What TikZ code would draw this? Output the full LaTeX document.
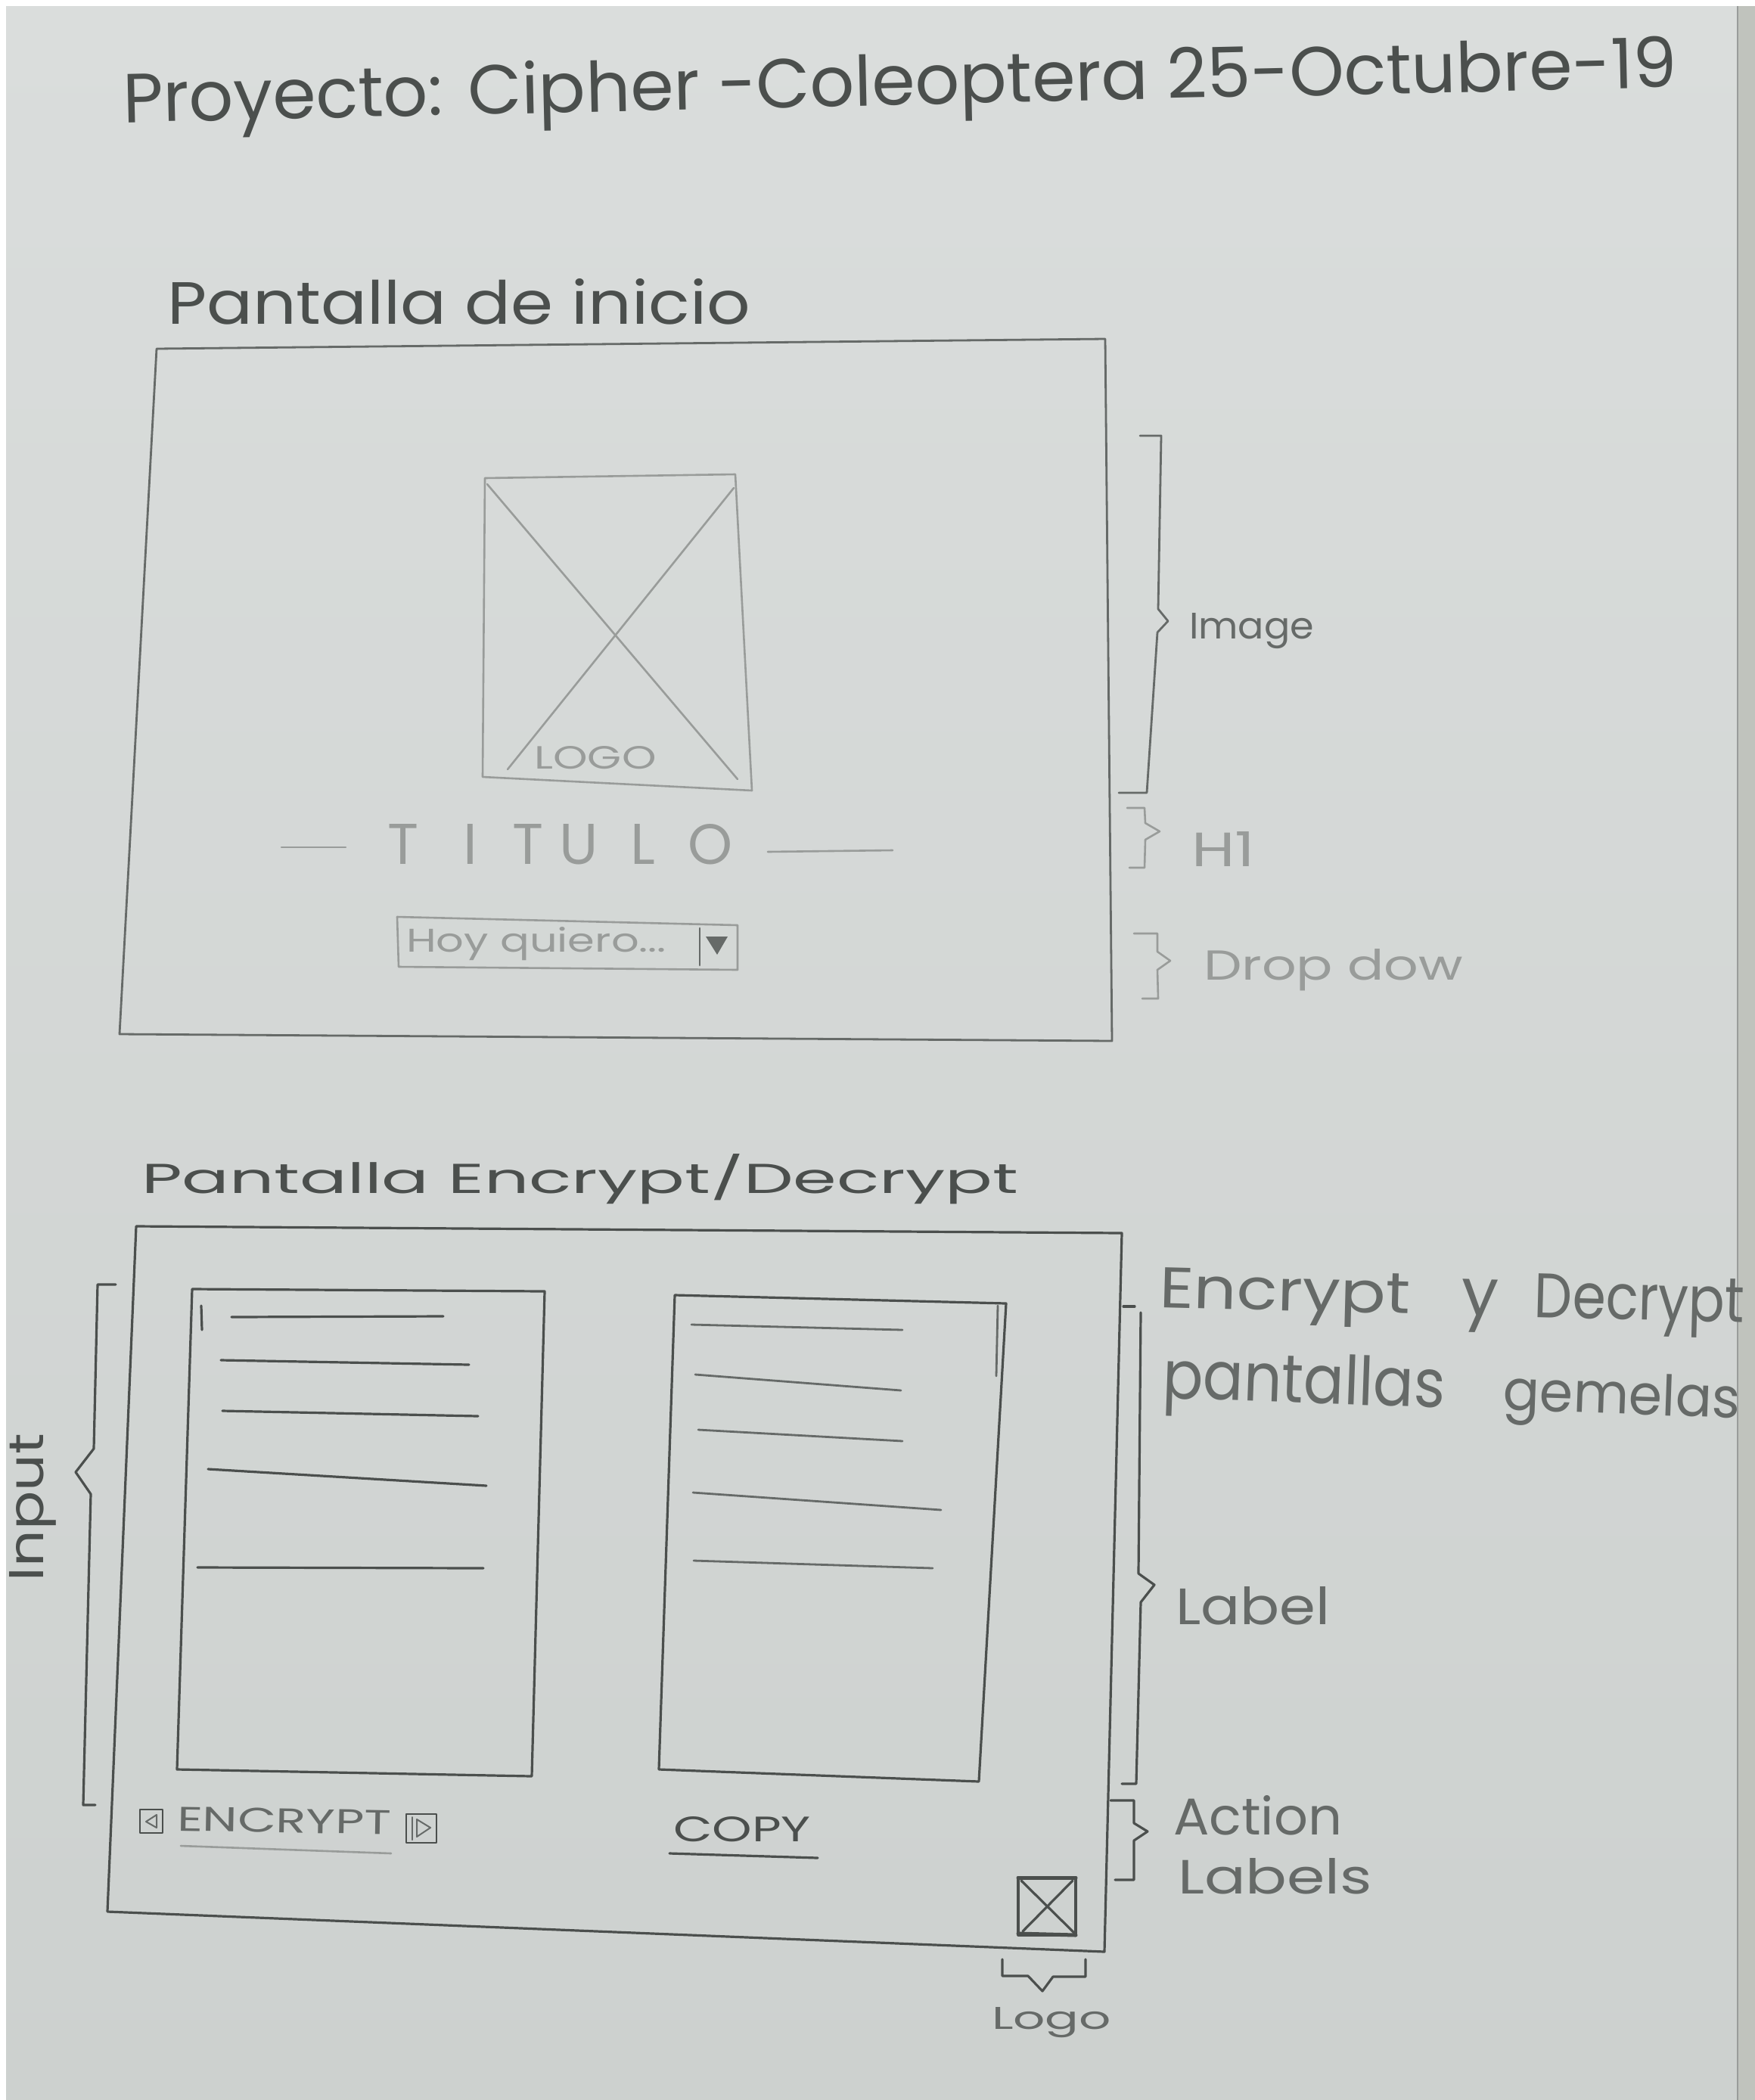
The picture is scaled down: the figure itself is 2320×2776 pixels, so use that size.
\documentclass[tikz,border=0pt]{standalone}
\usepackage{graphicx}
\usepackage{fontspec}
\setmainfont{Liberation Sans}
\newfontfamily\handfont{Poppins}
% stretch a word to a given width and height (in pt)
\newcommand{\fitbox}[3]{\resizebox{#1pt}{#2pt}{#3}}
\definecolor{paperTop}{HTML}{DADDDC}
\definecolor{paperBot}{HTML}{CDD1CF}
\definecolor{paperEdge}{HTML}{C0C3BD}
\definecolor{graphite}{HTML}{4B4F4D}
\definecolor{graphiteMid}{HTML}{666A68}
\definecolor{graphiteFaint}{HTML}{999C9A}
\tikzset{
  pencil/.style={draw=graphite, line width=3.2pt, line cap=round, line join=round},
  midpencil/.style={draw=graphiteMid, line width=2.8pt, line cap=round, line join=round},
  softpencil/.style={draw=graphiteFaint, line width=2.6pt, line cap=round, line join=round},
  note/.style={inner sep=0pt, outer sep=0pt, anchor=base west, text=graphite,
    font=\handfont\fontsize{40}{40}\selectfont},
  softnote/.style={note, text=graphiteFaint},
  midnote/.style={note, text=graphiteMid},
}
\begin{document}
\begin{tikzpicture}[x=1pt,y=-1pt]
\useasboundingbox (0,0) rectangle (2320,2776);
% sheet of paper
\fill[white] (0,0) rectangle (2320,2776);
\shade[top color=paperTop, bottom color=paperBot] (8,8) rectangle (2320,2776);
\fill[paperEdge] (2297,8) rectangle (2320,2776);
\draw[draw=graphiteFaint, line width=1.5pt] (2297,8) -- (2297,2776);

% ---------- heading ----------
\node[note, rotate=1.3] (title) at (163,162)
  {\fitbox{2055}{70}{Proyecto: Cipher -Coleoptera 25-Octubre-19}};

% ---------- home screen ----------
\node[note] (homeTitle) at (221,428) {\fitbox{771}{60}{Pantalla de inicio}};

\coordinate (s1nw) at (207,461);
\coordinate (s1ne) at (1461,448);
\coordinate (s1se) at (1470,1376);
\coordinate (s1sw) at (158,1367);
\draw[midpencil] (s1nw) -- (s1ne) -- (s1se) -- (s1sw) -- cycle;

% logo placeholder
\coordinate (lgnw) at (641,632);
\coordinate (lgne) at (972,627);
\coordinate (lgse) at (994,1045);
\coordinate (lgsw) at (638,1027);
\draw[softpencil] (lgnw) -- (lgne) -- (lgse) -- (lgsw) -- cycle;
\draw[softpencil] (644,640) -- (975,1030);
\draw[softpencil] (970,645) -- (671,1017);
\node[softnote, anchor=base] (logoText) at (787,1016) {\fitbox{161}{30}{LOGO}};

% heading line
\coordinate (dashAa) at (372,1120);
\coordinate (dashAb) at (457,1120);
\coordinate (dashBa) at (1015,1126);
\coordinate (dashBb) at (1180,1124);
\draw[softpencil] (dashAa) -- (dashAb);
\draw[softpencil] (dashBa) -- (dashBb);
\foreach \ch/\cx [count=\i] in {T/533, I/622, T/698, U/765, L/850, O/939}
  \node[softnote, anchor=base] (titulo\i) at (\cx,1142) {\resizebox{!}{53pt}{\ch}};

% dropdown
\coordinate (ddnw) at (525,1212);
\coordinate (ddne) at (975,1223);
\coordinate (ddse) at (975,1282);
\coordinate (ddsw) at (527,1278);
\draw[softpencil] (ddnw) -- (ddne) -- (ddse) -- (ddsw) -- cycle;
\draw[midpencil] (925,1227) -- (925,1276);
\fill[graphiteMid] (933,1238) -- (962,1238) -- (948,1262) -- cycle;
\node[softnote] (ddText) at (537,1258) {\fitbox{344}{33}{Hoy quiero...}};

% annotations of the home screen
\draw[midpencil] (1507,576) -- (1535,576) -- (1531,805) -- (1544,821) -- (1530,836)
  -- (1516,1048) -- (1479,1048);
\node[midnote] (imageNote) at (1572,844) {\fitbox{165}{34}{Image}};

\draw[softpencil] (1490,1068) -- (1513,1068) -- (1514,1088) -- (1533,1099) -- (1514,1110)
  -- (1513,1147) -- (1493,1147);
\node[softnote] (h1Note) at (1575,1145) {\fitbox{84}{46}{H1}};

\draw[softpencil] (1499,1234) -- (1530,1234) -- (1530,1258) -- (1547,1270) -- (1530,1282)
  -- (1531,1320) -- (1510,1320);
\node[softnote] (ddNote) at (1591,1295) {\fitbox{343}{41}{Drop dow}};

% ---------- encrypt / decrypt screen ----------
\node[note] (cryptTitle) at (187,1577) {\fitbox{1159}{52}{Pantalla Encrypt/Decrypt}};

\coordinate (s2nw) at (180,1621);
\coordinate (s2ne) at (1483,1630);
\coordinate (s2se) at (1460,2580);
\coordinate (s2sw) at (142,2527);
\draw[pencil] (s2nw) -- (s2ne) -- (s2se) -- (s2sw) -- cycle;

% input panel
\coordinate (inw) at (254,1704);
\coordinate (ine) at (720,1707);
\coordinate (ise) at (703,2348);
\coordinate (isw) at (234,2339);
\draw[pencil] (inw) -- (ine) -- (ise) -- (isw) -- cycle;
\draw[pencil] (266,1726) -- (267,1758);
\draw[pencil] (306,1741) -- (586,1740);
\draw[pencil] (292,1798) -- (620,1804);
\draw[pencil] (294,1865) -- (632,1872);
\draw[pencil] (275,1942) -- (643,1964);
\draw[pencil] (261,2072) -- (639,2073);

% output panel
\coordinate (onw) at (892,1712);
\coordinate (one) at (1330,1723);
\coordinate (ose) at (1294,2355);
\coordinate (osw) at (871,2339);
\draw[pencil] (onw) -- (one) -- (ose) -- (osw) -- cycle;
\draw[midpencil] (1319,1726) -- (1317,1819);
\draw[midpencil] (914,1751) -- (1193,1758);
\draw[midpencil] (919,1817) -- (1191,1838);
\draw[midpencil] (923,1890) -- (1193,1905);
\draw[midpencil] (916,1973) -- (1244,1996);
\draw[midpencil] (917,2063) -- (1233,2073);

% action labels
\draw[pencil, line width=2.6pt] (185,2392) rectangle (215,2423);
\draw[midpencil, line width=2pt] (207,2399) -- (207,2416) -- (193,2408) -- cycle;
\node[midnote, rotate=-1] (encryptBtn) at (234,2420) {\fitbox{283}{32}{ENCRYPT}};
\draw[pencil, line width=2.6pt] (537,2398) rectangle (577,2436);
\draw[midpencil, line width=2pt] (545,2402) -- (545,2432);
\draw[midpencil, line width=2pt] (551,2405) -- (551,2428) -- (569,2416) -- cycle;
\draw[softpencil] (239,2440) -- (517,2450);

\node[note] (copyBtn) at (890,2434) {\fitbox{182}{33}{COPY}};
\draw[pencil] (885,2450) -- (1081,2456);

% small logo
\coordinate (slnw) at (1346,2482);
\coordinate (slse) at (1422,2558);
\draw[pencil] (slnw) rectangle (slse);
\draw[pencil, line width=5pt] (1346,2482) -- (1422,2482);
\draw[pencil, line width=5pt] (1346,2556) -- (1422,2558);
\draw[pencil] (1350,2486) -- (1420,2555);
\draw[pencil] (1418,2486) -- (1352,2553);

% annotations of the encrypt / decrypt screen
\draw[pencil] (153,1698) -- (129,1698) -- (124,1915) -- (100,1946) -- (120,1975)
  -- (110,2386) -- (126,2386);
\node[note, rotate=90] (inputNote) at (57,2090) {\fitbox{195}{45}{Input}};

\draw[pencil] (1485,1727) -- (1500,1727);
\draw[pencil] (1508,1735) -- (1505,2080) -- (1526,2095) -- (1508,2118) -- (1502,2358)
  -- (1483,2358);
\node[midnote, rotate=-1.5] (twinA) at (1532,1728)
  {\fitbox{332}{53}{Encrypt}\hspace{68pt}\resizebox{49pt}{!}{y}\hspace{47pt}\fitbox{278}{58}{Decrypt}};
\node[midnote, rotate=-2] (twinB) at (1536,1848)
  {\fitbox{374}{66}{pantallas}\hspace{77pt}\fitbox{313}{55}{gemelas}};
\node[midnote] (labelNote) at (1554,2147) {\fitbox{204}{50}{Label}};

\draw[pencil] (1468,2380) -- (1499,2380) -- (1499,2410) -- (1517,2421) -- (1499,2433)
  -- (1499,2485) -- (1474,2485);
\node[midnote] (actionNote) at (1551,2425) {\fitbox{223}{52}{Action}};
\node[midnote] (labelsNote) at (1557,2503) {\fitbox{257}{47}{Labels}};

\draw[pencil] (1325,2590) -- (1325,2612) -- (1359,2612) -- (1378,2632) -- (1392,2613)
  -- (1435,2613) -- (1435,2590);
\node[midnote] (logoNote) at (1311,2682) {\fitbox{158}{29}{Logo}};
\end{tikzpicture}
\end{document}
